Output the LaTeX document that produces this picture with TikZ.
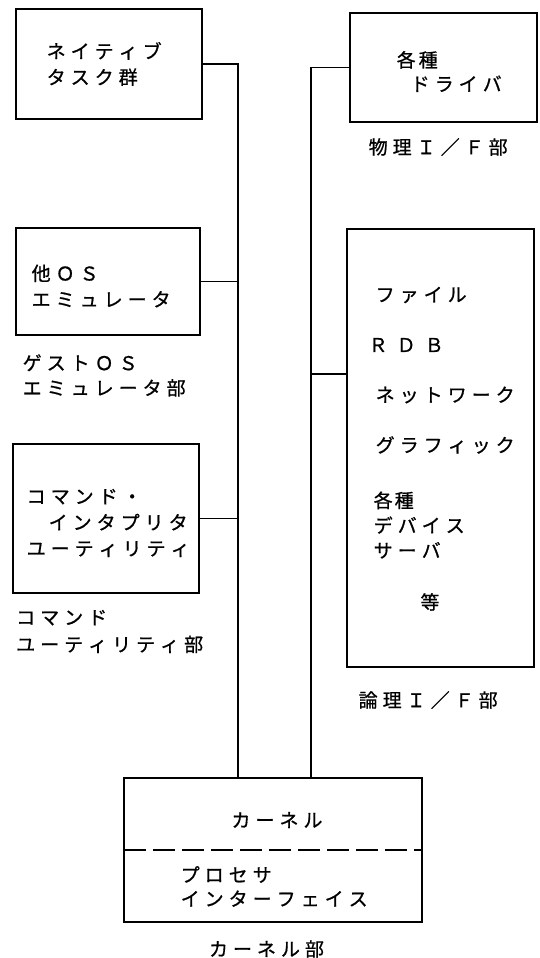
\documentclass[tikz,border=0pt]{standalone}
\usepackage{fontspec}
\setmainfont{Noto Sans CJK JP}[FakeBold=0.8]
\newdimen\lsk
\lsk=5pt
\ExplSyntaxOn
\NewDocumentCommand\ls{O{5pt}m}{\lsk=#1\tl_map_inline:nn{#2}{##1\kern\lsk}\unkern}
\ExplSyntaxOff
\begin{document}
\begin{tikzpicture}[x=1pt,y=-1pt,
  box/.style={draw,line width=1.8pt,inner sep=0pt,outer sep=0pt,anchor=north west},
  txt/.style={inner sep=0pt,align=left,anchor=west,font=\fontsize{19pt}{26pt}\selectfont},
  ctxt/.style={inner sep=0pt,align=center,font=\fontsize{19pt}{26pt}\selectfont},
  conn/.style={line width=1.8pt},
  dline/.style={line width=1.8pt,dash pattern=on 22pt off 7pt}]
\useasboundingbox (0,0) rectangle (539,958);
% boxes
\node[box,minimum width=186pt,minimum height=110pt] (b1) at (16,9) {};
\node[box,minimum width=184pt,minimum height=107pt] (b2) at (16,228) {};
\node[box,minimum width=186pt,minimum height=149pt] (b3) at (13,444) {};
\node[box,minimum width=187pt,minimum height=109pt] (drv) at (350,13) {};
\node[box,minimum width=187pt,minimum height=438pt] (log) at (347,229) {};
\node[box,minimum width=298pt,minimum height=144pt] (kern) at (124,778) {};
% texts in boxes
\node[txt] (t1) at (46.5,64) {\ls{ネイティブ}\\\ls{タスク群}};
\node[txt] (t2) at (31.5,286) {\ls{他ＯＳ}\\\ls{エミュレータ}};
\node[txt] (t3) at (26.5,523) {\ls{コマンド・}\\\hspace*{22pt}\ls{インタプリタ}\\\ls{ユーティリティ}};
\node[txt,font=\fontsize{19pt}{24pt}\selectfont] (t4) at (396.5,71.5) {\ls[3pt]{各種}\\\hspace*{14pt}\ls{ドライバ}};
\node[txt] (f1) at (375.5,295) {\ls{ファイル}};
\node[txt] (f2) at (368.5,345) {\ls[9pt]{ＲＤＢ}};
\node[txt] (f3) at (375.5,395) {\ls{ネットワーク}};
\node[txt] (f4) at (375.5,445) {\ls{グラフィック}};
\node[txt,font=\fontsize{19pt}{25pt}\selectfont] (f5) at (373.5,525) {\ls[2pt]{各種}\\\ls{デバイス}\\\ls{サーバ}};
\node[ctxt] (f6) at (430,602) {等};
\node[ctxt] (k1) at (277,820) {\ls{カーネル}};
\node[txt,font=\fontsize{19pt}{24pt}\selectfont] (k2) at (180.5,886.5) {\ls{プロセサ}\\\ls{インターフェイス}};
% labels
\node[txt,font=\fontsize{19pt}{25pt}\selectfont] (l2) at (22.5,375.5) {\ls{ゲストＯＳ}\\\ls{エミュレータ部}};
\node[txt,font=\fontsize{19pt}{27pt}\selectfont] (l3) at (16,631.5) {\ls{コマンド}\\\ls{ユーティリティ部}};
\node[txt] (l4) at (368.5,147) {\ls{物理Ｉ／Ｆ部}};
\node[txt] (l5) at (358.5,700) {\ls{論理Ｉ／Ｆ部}};
\node[ctxt] (l6) at (266.5,949) {\ls{カーネル部}};
% connectors
\coordinate (jL) at (238,778);
\coordinate (jR) at (311,778);
\coordinate (jR2) at (311,374);
\draw[conn] (b1.east) -| (jL);
\draw[conn] (b2.east) -- (b2.east -| jL);
\draw[conn] (b3.east) -- (b3.east -| jL);
\draw[conn] (drv.west) -| (jR);
\draw[conn] (jR2) -- (jR2 -| log.west);
% dashed divider in kernel
\coordinate (dL) at (124,850);
\draw[dline] (dL) -- (dL -| kern.east);
\end{tikzpicture}
\end{document}
